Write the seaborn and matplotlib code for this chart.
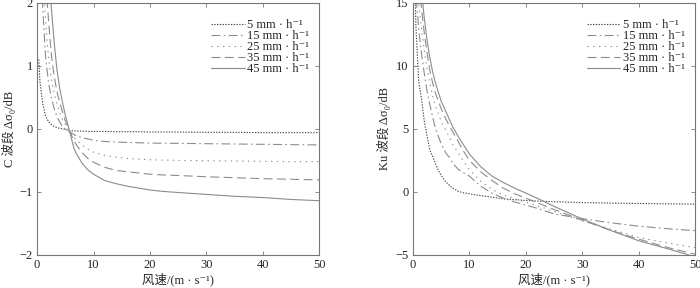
import pandas as pd
import matplotlib
matplotlib.use('Agg')
import matplotlib.pyplot as plt
import seaborn as sns

# wind speed grid (m/s)
wind = [0.3, 0.5, 1, 1.5, 2, 2.5, 3, 3.5, 4, 4.5, 5, 5.8, 6.5, 7, 8, 9, 10,
        12, 14, 16, 18, 20, 22, 25, 30, 35, 40, 45, 50]

rain_labels = ['5 mm · h⁻¹', '15 mm · h⁻¹', '25 mm · h⁻¹', '35 mm · h⁻¹', '45 mm · h⁻¹']

# C band
c_5 = [1.1, 0.75, 0.4, 0.2, 0.12, 0.07, 0.04, 0.02, 0.01, 0.0, -0.01, -0.03, -0.03, -0.035,
       -0.035, -0.04, -0.04, -0.04, -0.045, -0.045, -0.045, -0.05, -0.05, -0.05, -0.055,
       -0.055, -0.06, -0.06, -0.06]
c_15 = [5.0, 3.5, 1.9, 1.15, 0.75, 0.5, 0.33, 0.2, 0.11, 0.04, 0.0, -0.05, -0.09, -0.11,
        -0.14, -0.16, -0.18, -0.2, -0.21, -0.215, -0.22, -0.225, -0.228, -0.23, -0.235,
        -0.24, -0.245, -0.25, -0.255]
c_25 = [7.0, 5.0, 2.7, 1.7, 1.15, 0.8, 0.57, 0.4, 0.26, 0.15, 0.07, -0.05, -0.13, -0.18,
        -0.26, -0.32, -0.37, -0.42, -0.45, -0.47, -0.48, -0.49, -0.495, -0.5, -0.505,
        -0.51, -0.515, -0.52, -0.52]
c_35 = [9.0, 7.0, 3.8, 2.4, 1.75, 1.2, 0.85, 0.6, 0.42, 0.27, 0.13, -0.05, -0.18, -0.26,
        -0.38, -0.47, -0.53, -0.61, -0.66, -0.68, -0.7, -0.72, -0.73, -0.74, -0.76,
        -0.775, -0.79, -0.8, -0.81]
c_45 = [12.0, 9.0, 5.0, 3.3, 2.5, 1.95, 1.4, 0.95, 0.65, 0.42, 0.22, -0.05, -0.3, -0.4,
        -0.55, -0.65, -0.72, -0.82, -0.87, -0.91, -0.94, -0.97, -0.99, -1.01, -1.04,
        -1.07, -1.09, -1.12, -1.14]

# Ku band
ku_5 = [18.0, 13.3, 8.8, 7.4, 5.6, 4.4, 3.3, 2.8, 2.2, 1.7, 1.3, 0.8, 0.5, 0.3, 0.05,
        -0.08, -0.15, -0.3, -0.42, -0.55, -0.62, -0.68, -0.73, -0.78, -0.85, -0.89,
        -0.92, -0.95, -0.97]
ku_15 = [18.0, 15.8, 13.0, 11.0, 9.4, 8.0, 6.9, 5.9, 5.0, 4.4, 3.8, 3.1, 2.7, 2.3, 1.8,
         1.5, 1.25, 0.45, -0.1, -0.5, -0.8, -1.05, -1.3, -1.75, -2.12, -2.45, -2.72,
         -2.92, -3.08]
ku_25 = [21.0, 18.0, 15.0, 13.0, 11.2, 9.7, 8.6, 7.6, 6.8, 6.2, 5.6, 4.9, 4.3, 3.8, 3.1,
         2.4, 1.75, 0.85, 0.2, -0.25, -0.55, -0.82, -1.1, -1.55, -2.3, -2.95, -3.62,
         -4.05, -4.42]
ku_35 = [23.0, 20.0, 17.0, 14.6, 12.6, 11.0, 9.6, 8.6, 7.8, 7.2, 6.6, 5.8, 5.2, 4.8, 4.0,
         3.2, 2.5, 1.6, 0.9, 0.3, -0.15, -0.5, -0.85, -1.4, -2.25, -3.05, -3.75, -4.4,
         -4.95]
ku_45 = [25.0, 22.0, 18.5, 16.0, 13.8, 12.0, 10.6, 9.5, 8.6, 7.9, 7.2, 6.4, 5.7, 5.2, 4.4,
         3.7, 3.0, 2.0, 1.25, 0.75, 0.3, -0.1, -0.5, -1.15, -2.15, -3.05, -3.88, -4.5,
         -5.15]

sns.set_style('ticks')
plt.rcParams['font.family'] = ['Liberation Serif', 'Noto Sans CJK SC', 'DejaVu Sans']
plt.rcParams['axes.unicode_minus'] = True

dash_map = dict(zip(rain_labels, [(1.2, 1.3), (8, 3, 1.5, 3), (1.2, 4), (8, 4), '']))
color_map = dict(zip(rain_labels, ['#444444', '#8c8c8c', '#8c8c8c', '#8c8c8c', '#8c8c8c']))


def long_form(series):
    frames = []
    for lab, vals in zip(rain_labels, series):
        frames.append(pd.DataFrame({'wind': wind, 'delta': vals, 'rain': lab}))
    return pd.concat(frames, ignore_index=True)


fig = plt.figure(figsize=(7, 2.88), dpi=100)
ax1 = fig.add_axes([0.053, 0.115, 0.403, 0.875])
ax2 = fig.add_axes([0.59, 0.115, 0.403, 0.875])

panels = [
    (ax1, long_form([c_5, c_15, c_25, c_35, c_45]), (-2, 2), [-2, -1, 0, 1, 2],
     'C 波段 Δσ₀/dB'),
    (ax2, long_form([ku_5, ku_15, ku_25, ku_35, ku_45]), (-5, 15), [-5, 0, 5, 10, 15],
     'Ku 波段 Δσ₀/dB'),
]

for ax, df, ylim, yticks, ylab in panels:
    sns.lineplot(data=df, x='wind', y='delta', hue='rain', style='rain',
                 palette=color_map, dashes=dash_map, estimator=None,
                 linewidth=0.8, ax=ax)
    ax.set_xlim(0, 50)
    ax.set_ylim(*ylim)
    ax.set_xticks([0, 10, 20, 30, 40, 50])
    ax.set_yticks(yticks)
    ax.set_xlabel('风速/(m · s⁻¹)', fontsize=9, labelpad=1)
    ax.set_ylabel(ylab, fontsize=9, labelpad=3)
    ax.tick_params(direction='in', top=True, right=True, labelsize=9,
                   length=3, width=0.6, color='#777777', pad=3)
    for sp in ax.spines.values():
        sp.set_color('#777777')
        sp.set_linewidth(0.8)
    handles, labels = ax.get_legend_handles_labels()
    ax.legend(handles, labels, loc='upper right', frameon=False, fontsize=9,
              handlelength=2.7, handletextpad=0.2, labelspacing=-0.08,
              borderaxespad=0.3, bbox_to_anchor=(0.995, 0.97))

fig.savefig('out.png', dpi=100)
